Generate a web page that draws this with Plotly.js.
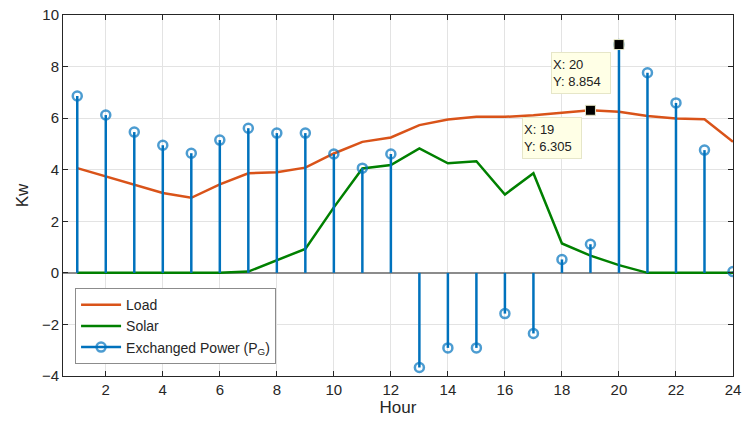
<!DOCTYPE html>
<html>
<head>
<meta charset="utf-8">
<script src="https://cdn.plot.ly/plotly-3.0.1.min.js"></script>
<style>html,body{margin:0;padding:0;background:#fff;}#chart{width:743px;height:427px;}</style>
</head>
<body>
<div id="chart"></div>
<script>
// Hourly power profile (kW)
const hours = [1,2,3,4,5,6,7,8,9,10,11,12,13,14,15,16,17,18,19,20,21,22,23,24];
const load = [4.06,3.73,3.40,3.10,2.91,3.43,3.86,3.90,4.08,4.63,5.08,5.25,5.73,5.95,6.05,6.05,6.11,6.21,6.305,6.25,6.08,5.99,5.96,5.08];
const solar = [0,0,0,0,0,0,0.05,0.49,0.93,2.54,4.05,4.18,4.83,4.25,4.33,3.04,3.86,1.14,0.67,0.30,0,0,0,0];
const exchanged = [6.86,6.12,5.46,4.95,4.64,5.15,5.61,5.42,5.42,4.61,4.06,4.61,-3.67,-2.91,-2.91,-1.58,-2.35,0.52,1.11,8.854,7.76,6.59,4.76,0.05];

// Highlighted data points (data tips)
const tipX = [20, 19];
const tipY = [8.854, 6.305];

// Stem segments from the baseline to each value; only the top end carries a circle
const stemX = [], stemY = [], stemSize = [];
hours.forEach((h, i) => {
  stemX.push(h, h, null);
  stemY.push(0, exchanged[i], null);
  stemSize.push(0, 9, 18);
});

const blue = '#0072BD';
const font = 'Liberation Sans, Arial, Helvetica, sans-serif';

const traces = [
  {x: hours, y: load, mode: 'lines', name: 'Load', line: {color: '#D95319', width: 2.5}},
  {x: hours, y: solar, mode: 'lines', name: 'Solar', line: {color: '#008000', width: 2.5}},
  {x: stemX, y: stemY, mode: 'lines+markers', name: 'Exchanged Power (P<sub>G</sub>)',
   line: {color: blue, width: 2.5},
   marker: {symbol: 'circle-open', size: stemSize, color: blue, line: {width: 2.5, color: blue}}},
  {x: tipX, y: tipY, mode: 'markers', showlegend: false,
   marker: {symbol: 'square', size: 10, color: '#000', line: {width: 1, color: '#e8e8c8'}}}
];

const annotations = tipX.map((x, i) => ({
  x: x, y: tipY[i], xref: 'x', yref: 'y', showarrow: false,
  text: 'X: ' + x + '<br>Y: ' + tipY[i],
  align: 'left', xshift: -38, yshift: -28,
  width: 56, height: 38,
  bgcolor: '#ffffe6', bordercolor: '#e6e6c8', borderwidth: 1, borderpad: 1,
  font: {family: font, size: 13, color: '#222'}
}));

const axisCommon = {
  showline: true, linecolor: '#262626', linewidth: 1, mirror: 'ticks',
  ticks: 'inside', ticklen: 5, tickcolor: '#262626',
  showgrid: true, gridcolor: '#e3e3e3', gridwidth: 1,
  tickfont: {family: font, size: 15, color: '#262626'}
};

const layout = {
  width: 743, height: 427,
  margin: {l: 63, r: 10, t: 15, b: 51},
  paper_bgcolor: '#fff', plot_bgcolor: '#fff',
  font: {family: font},
  xaxis: Object.assign({}, axisCommon, {
    range: [0.5, 24], tickvals: [2,4,6,8,10,12,14,16,18,20,22,24], zeroline: false,
    title: {text: 'Hour', font: {family: font, size: 17, color: '#262626'}, standoff: 4}
  }),
  yaxis: Object.assign({}, axisCommon, {
    range: [-4, 10], tickvals: [-4,-2,0,2,4,6,8,10],
    zeroline: true, zerolinecolor: '#8c8c8c', zerolinewidth: 1.5,
    title: {text: 'Kw', font: {family: font, size: 17, color: '#262626'}, standoff: 8}
  }),
  legend: {
    x: 0.018, y: 0.033, xanchor: 'left', yanchor: 'bottom',
    bgcolor: '#fff', bordercolor: '#8c8c8c', borderwidth: 1,
    font: {family: font, size: 14, color: '#262626'},
    tracegroupgap: 0, itemwidth: 40
  },
  annotations: annotations,
  showlegend: true
};

Plotly.newPlot('chart', traces, layout, {displayModeBar: false, staticPlot: true});
</script>
</body>
</html>
